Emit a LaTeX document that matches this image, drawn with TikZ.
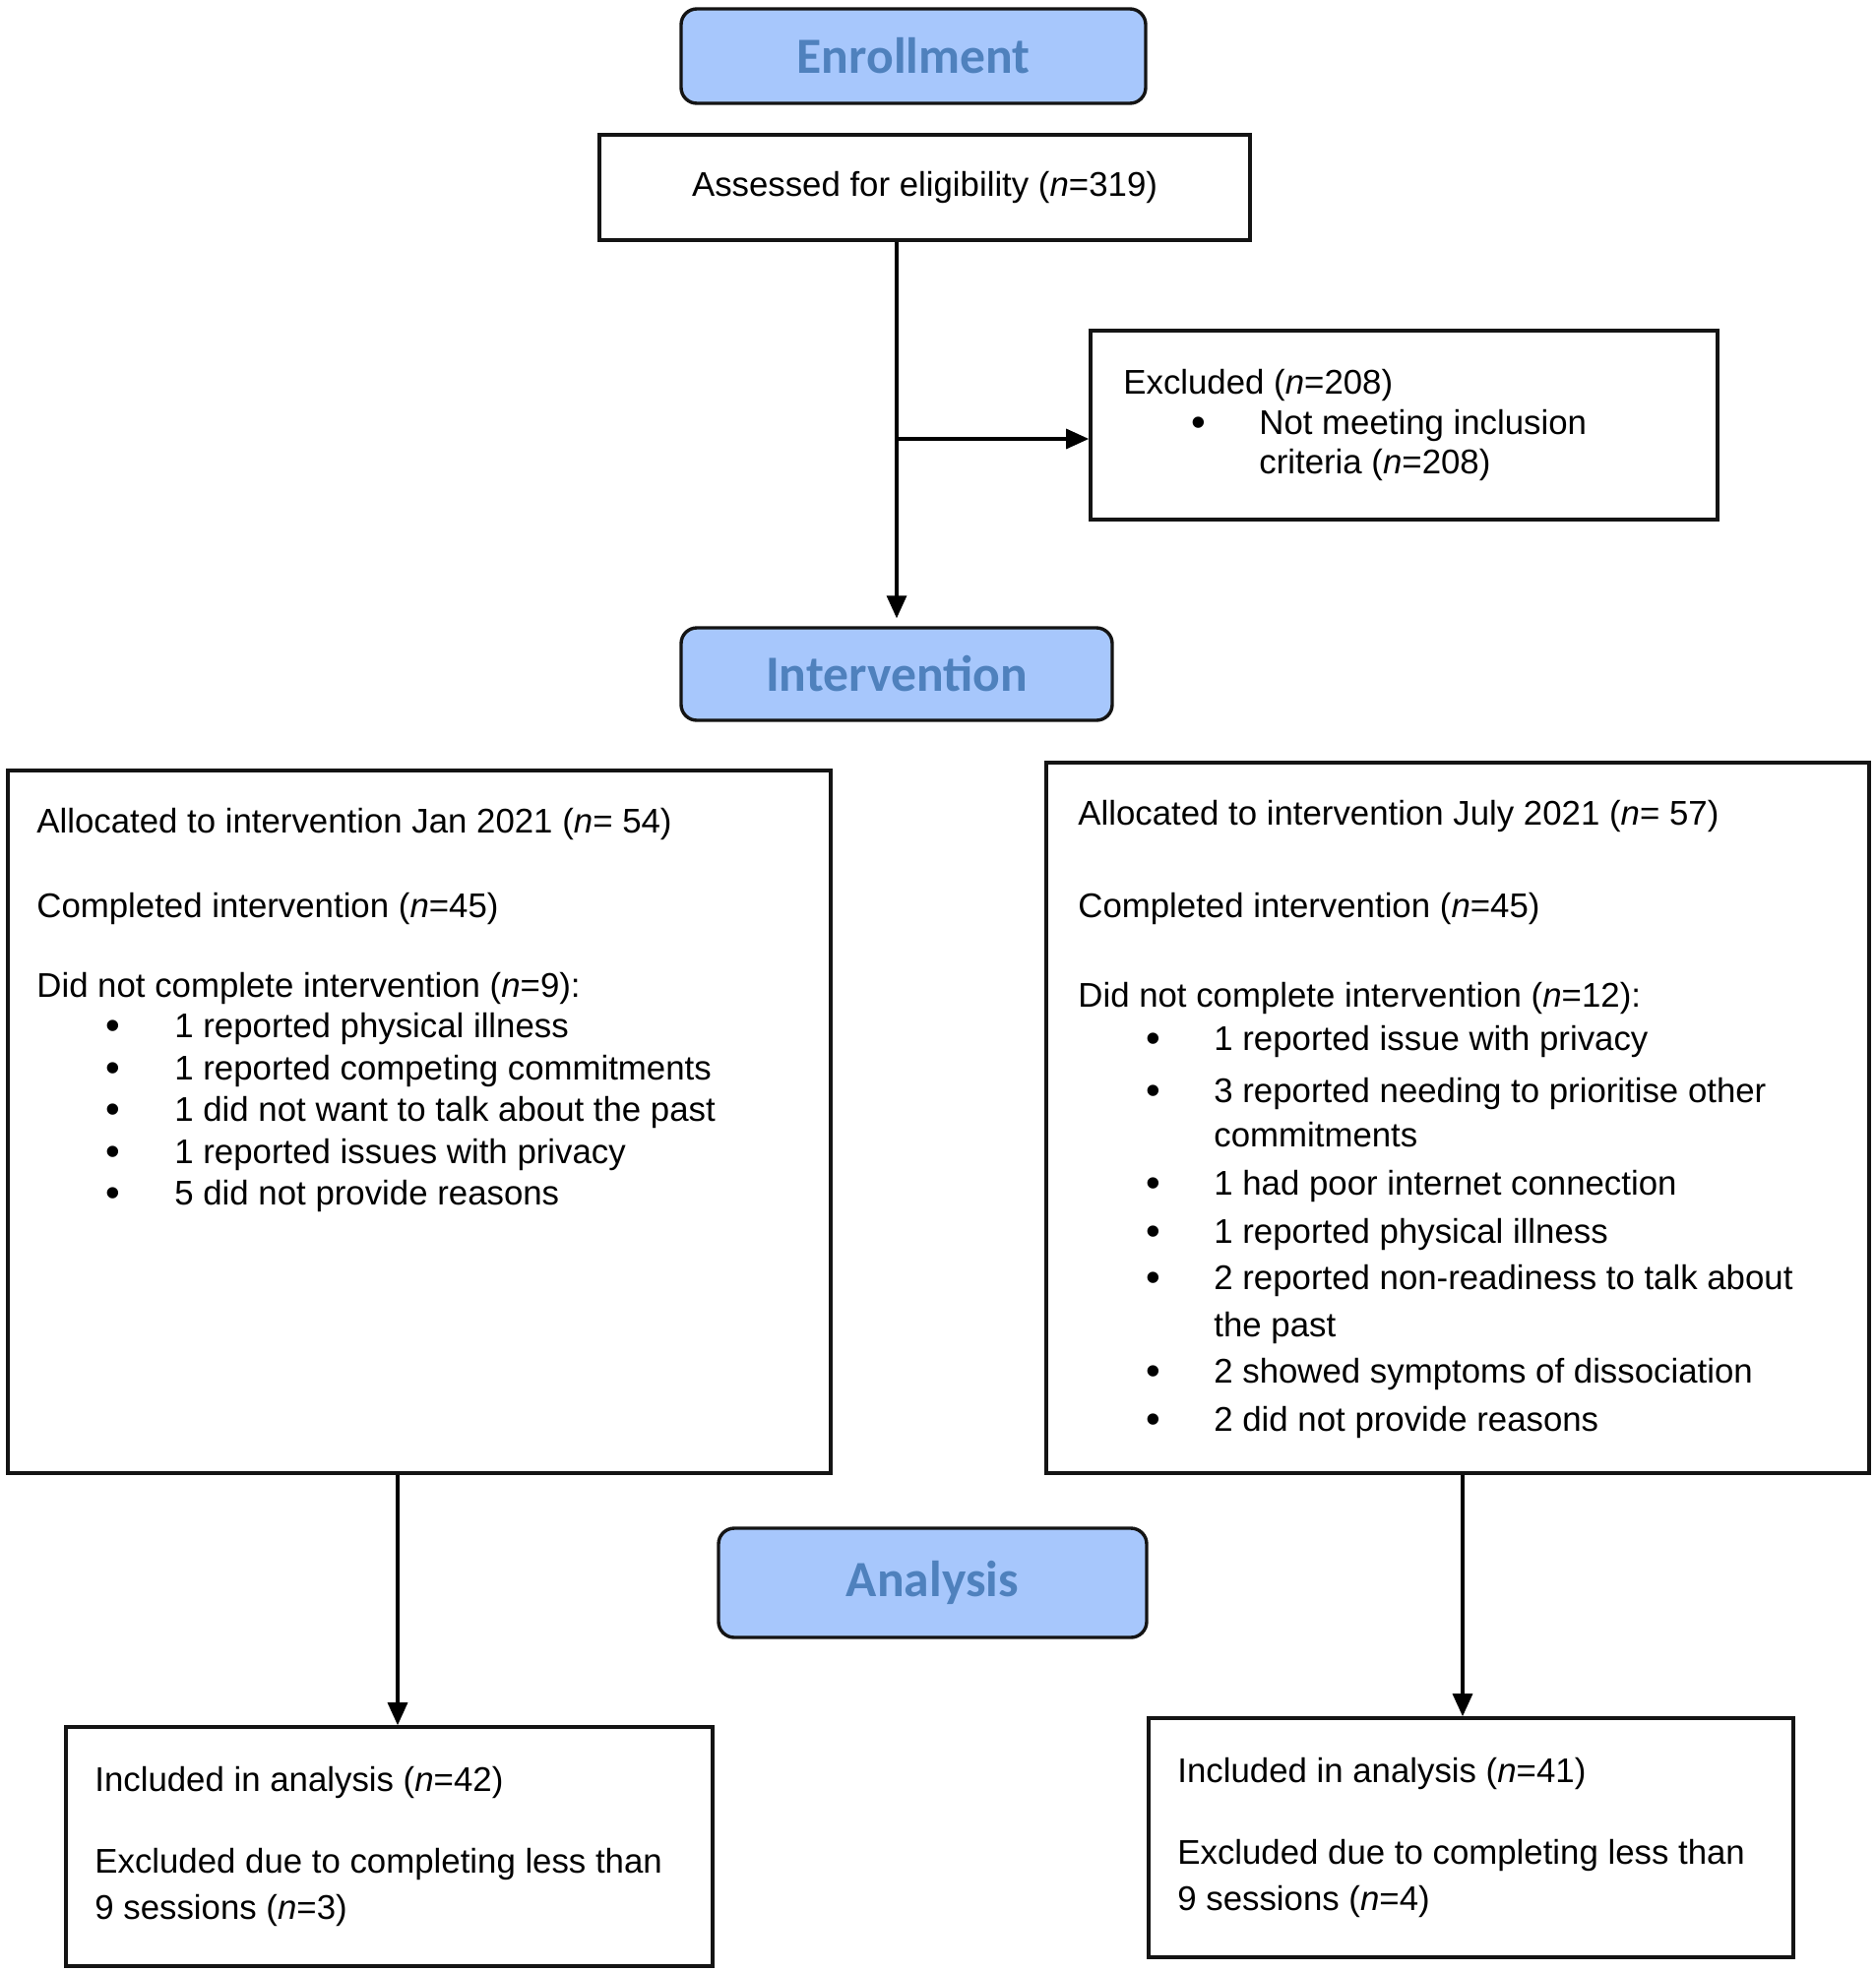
\documentclass[tikz,border=0pt]{standalone}
\usepackage{fontspec}
\setmainfont{Liberation Sans}
\newfontfamily\hdrfont{Carlito}
\usetikzlibrary{arrows.meta}
\definecolor{hdrfill}{RGB}{167,199,252}
\definecolor{hdrtext}{RGB}{79,129,189}
\definecolor{edgecol}{RGB}{20,20,20}
\tikzset{
  box/.style={draw=edgecol, line width=1.8pt, fill=white, inner sep=0pt},
  hdr/.style={draw=edgecol, line width=1.7pt, fill=hdrfill, rounded corners=8pt,
    text=hdrtext, font=\hdrfont\bfseries\fontsize{25.8}{30}\selectfont, inner sep=0pt},
  txt/.style={anchor=base west, inner sep=0pt, font=\fontsize{17.4}{21}\selectfont},
  bul/.style={anchor=base, inner sep=0pt, font=\fontsize{21}{21}\selectfont},
  arr/.style={draw=black, line width=1.6pt, -{Triangle[length=11.5pt,width=10pt]}},
}
\begin{document}
\begin{tikzpicture}[x=0.5pt,y=-0.5pt]
\useasboundingbox (0,0) rectangle (1906,2004);

% header boxes
\node[hdr, minimum width=236pt, minimum height=48pt] (enr) at (928,57) {Enrollment};
\node[hdr, minimum width=219pt, minimum height=47pt] (interv) at (911,685) {Intervention};
\node[hdr, minimum width=217.5pt, minimum height=55.5pt] (anal) at (947.5,1608.5) {\raisebox{3pt}{Analysis}};

% content boxes
\node[box, minimum width=330.5pt, minimum height=53.5pt, font=\fontsize{17.4}{21}\selectfont] (assess) at (939.5,190.5) {Assessed for eligibility (\textit{n}=319)};
\node[box, minimum width=318.5pt, minimum height=96pt] (excl) at (1426.5,432) {};
\node[box, minimum width=418pt, minimum height=357pt] (lbig) at (426,1140) {};
\node[box, minimum width=418pt, minimum height=361pt] (rbig) at (1481,1136) {};
\node[box, minimum width=328.5pt, minimum height=121.5pt] (lres) at (395.5,1876.5) {};
\node[box, minimum width=327.5pt, minimum height=121.5pt] (rres) at (1494.5,1867.5) {};

% excluded text
\node[txt] (ex1) at (1141,400) {Excluded (\textit{n}=208)};
\node[bul] (exb) at (1218,443) {•};
\node[txt] (ex2) at (1279,441) {Not meeting inclusion};
\node[txt] (ex3) at (1279,481) {criteria (\textit{n}=208)};

% left big box text
\node[txt] (l1) at (37,846) {Allocated to intervention Jan 2021 (\textit{n}= 54)};
\node[txt] (l2) at (37,932) {Completed intervention (\textit{n}=45)};
\node[txt] (l3) at (37,1013) {Did not complete intervention (\textit{n}=9):};
\node[bul] (lb1) at (115,1056) {•};
\node[txt] (lt1) at (177,1054) {1 reported physical illness};
\node[bul] (lb2) at (115,1099) {•};
\node[txt] (lt2) at (177,1097) {1 reported competing commitments};
\node[bul] (lb3) at (115,1141) {•};
\node[txt] (lt3) at (177,1139) {1 did not want to talk about the past};
\node[bul] (lb4) at (115,1184) {•};
\node[txt] (lt4) at (177,1182) {1 reported issues with privacy};
\node[bul] (lb5) at (115,1226) {•};
\node[txt] (lt5) at (177,1224) {5 did not provide reasons};

% right big box text
\node[txt] (r1) at (1095,838) {Allocated to intervention July 2021 (\textit{n}= 57)};
\node[txt] (r2) at (1095,932) {Completed intervention (\textit{n}=45)};
\node[txt] (r3) at (1095,1023) {Did not complete intervention (\textit{n}=12):};
\node[bul] (rb1) at (1172,1069) {•};
\node[txt] (rt1) at (1233,1067) {1 reported issue with privacy};
\node[bul] (rb2) at (1172,1122) {•};
\node[txt] (rt2) at (1233,1120) {3 reported needing to prioritise other};
\node[txt] (rt2b) at (1233,1165) {commitments};
\node[bul] (rb3) at (1172,1216) {•};
\node[txt] (rt3) at (1233,1214) {1 had poor internet connection};
\node[bul] (rb4) at (1172,1265) {•};
\node[txt] (rt4) at (1233,1263) {1 reported physical illness};
\node[bul] (rb5) at (1172,1312) {•};
\node[txt] (rt5) at (1233,1310) {2 reported non-readiness to talk about};
\node[txt] (rt5b) at (1233,1358) {the past};
\node[bul] (rb6) at (1172,1407) {•};
\node[txt] (rt6) at (1233,1405) {2 showed symptoms of dissociation};
\node[bul] (rb7) at (1172,1456) {•};
\node[txt] (rt7) at (1233,1454) {2 did not provide reasons};

% result boxes text
\node[txt] (lr1) at (96,1820) {Included in analysis (\textit{n}=42)};
\node[txt] (lr2) at (96,1903) {Excluded due to completing less than};
\node[txt] (lr3) at (96,1950) {9 sessions (\textit{n}=3)};
\node[txt] (rr1) at (1196,1811) {Included in analysis (\textit{n}=41)};
\node[txt] (rr2) at (1196,1894) {Excluded due to completing less than};
\node[txt] (rr3) at (1196,1941) {9 sessions (\textit{n}=4)};

% connectors
\coordinate (br) at (911,446);
\coordinate (la) at (404,0);
\coordinate (ra) at (1486,0);
\draw[arr, shorten >=4pt] (assess.south -| interv.north) -- (interv.north);
\draw[arr] (br) -- (excl.west |- br);
\draw[arr] (lbig.south -| la) -- (lres.north -| la);
\draw[arr] (rbig.south -| ra) -- (rres.north -| ra);
\end{tikzpicture}
\end{document}
